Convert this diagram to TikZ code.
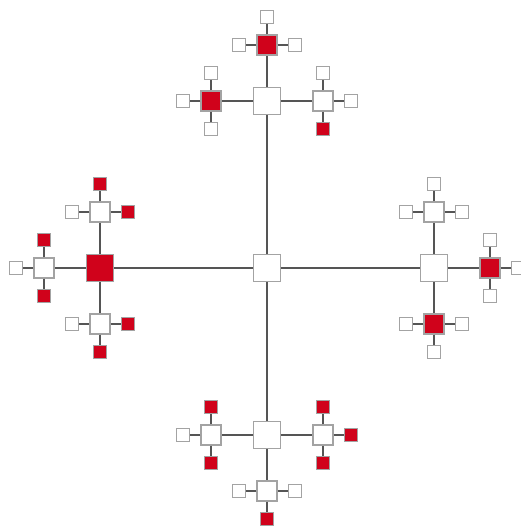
\documentclass[tikz,border=0pt]{standalone}
\definecolor{boxgray}{HTML}{A3A3A3}
\definecolor{linegray}{HTML}{555555}
\definecolor{boxred}{HTML}{D0021B}
\begin{document}
\begin{tikzpicture}[x=1pt,y=-1pt,
  bx/.style={draw=boxgray, line width=1.3pt, fill=white, inner sep=0pt, minimum size=#1},
  big/.style={bx=27pt},
  mid/.style={bx=20pt},
  leaf/.style={bx=13pt},
  red/.style={fill=boxred},
  link/.style={draw=linegray, line width=1.3pt}]
\useasboundingbox (0,0) rectangle (521,527);
% level 0 and 1
\node[big] (c) at (267,268) {};
\node[big] (t) at (267,101) {};
\node[big,red] (l) at (100,268) {};
\node[big] (r) at (434,268) {};
\node[big] (b) at (267,435) {};
% top branch
\node[mid,red] (tl) at (211,101) {};
\node[mid] (tr) at (323,101) {};
\node[mid,red] (tu) at (267,45) {};
\node[leaf] (tll) at (183,101) {};
\node[leaf] (tlu) at (211,73) {};
\node[leaf] (tld) at (211,129) {};
\node[leaf] (tru) at (323,73) {};
\node[leaf] (trr) at (351,101) {};
\node[leaf,red] (trd) at (323,129) {};
\node[leaf] (tul) at (239,45) {};
\node[leaf] (tur) at (295,45) {};
\node[leaf] (tuu) at (267,17) {};
% left branch
\node[mid] (lu) at (100,212) {};
\node[mid] (ld) at (100,324) {};
\node[mid] (ll) at (44,268) {};
\node[leaf,red] (luu) at (100,184) {};
\node[leaf] (lul) at (72,212) {};
\node[leaf,red] (lur) at (128,212) {};
\node[leaf,red] (llu) at (44,240) {};
\node[leaf] (lll) at (16,268) {};
\node[leaf,red] (lld) at (44,296) {};
\node[leaf] (ldl) at (72,324) {};
\node[leaf,red] (ldr) at (128,324) {};
\node[leaf,red] (ldd) at (100,352) {};
% right branch
\node[mid] (ru) at (434,212) {};
\node[mid,red] (rr) at (490,268) {};
\node[mid,red] (rd) at (434,324) {};
\node[leaf] (ruu) at (434,184) {};
\node[leaf] (rul) at (406,212) {};
\node[leaf] (rur) at (462,212) {};
\node[leaf] (rru) at (490,240) {};
\node[leaf] (rrr) at (518,268) {};
\node[leaf] (rrd) at (490,296) {};
\node[leaf] (rdl) at (406,324) {};
\node[leaf] (rdr) at (462,324) {};
\node[leaf] (rdd) at (434,352) {};
% bottom branch
\node[mid] (bl) at (211,435) {};
\node[mid] (br) at (323,435) {};
\node[mid] (bd) at (267,491) {};
\node[leaf,red] (blu) at (211,407) {};
\node[leaf] (bll) at (183,435) {};
\node[leaf,red] (bld) at (211,463) {};
\node[leaf,red] (bru) at (323,407) {};
\node[leaf,red] (brr) at (351,435) {};
\node[leaf,red] (brd) at (323,463) {};
\node[leaf] (bdl) at (239,491) {};
\node[leaf] (bdr) at (295,491) {};
\node[leaf,red] (bdd) at (267,519) {};
% connectors
\foreach \a/\b in {c/t,c/l,c/r,c/b,
  t/tl,t/tr,t/tu,tl/tll,tl/tlu,tl/tld,tr/tru,tr/trr,tr/trd,tu/tul,tu/tur,tu/tuu,
  l/lu,l/ld,l/ll,lu/luu,lu/lul,lu/lur,ll/llu,ll/lll,ll/lld,ld/ldl,ld/ldr,ld/ldd,
  r/ru,r/rr,r/rd,ru/ruu,ru/rul,ru/rur,rr/rru,rr/rrr,rr/rrd,rd/rdl,rd/rdr,rd/rdd,
  b/bl,b/br,b/bd,bl/blu,bl/bll,bl/bld,br/bru,br/brr,br/brd,bd/bdl,bd/bdr,bd/bdd}
  \draw[link] (\a) -- (\b);
\end{tikzpicture}
\end{document}
